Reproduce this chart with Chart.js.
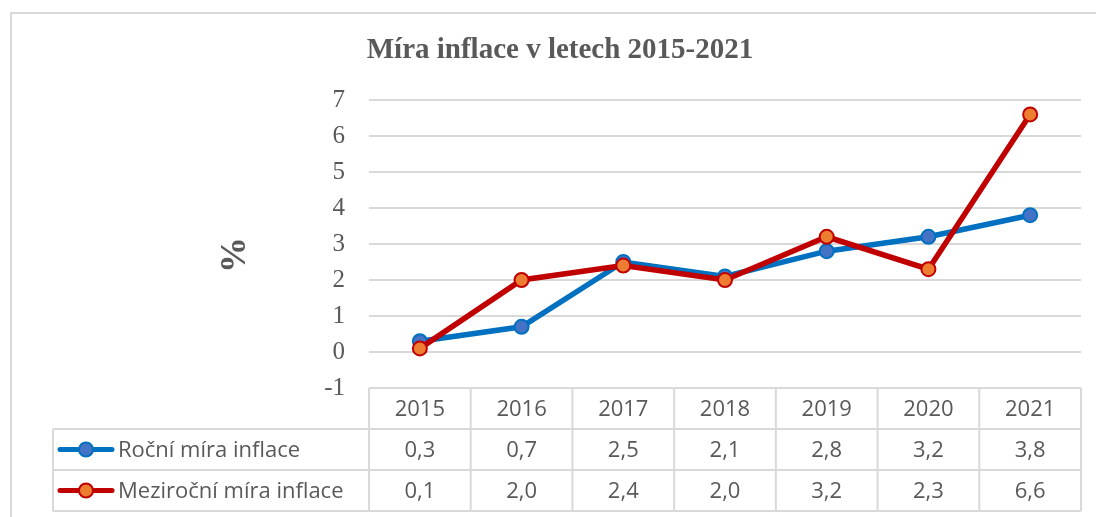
<!DOCTYPE html>
<html>
<head>
<meta charset="utf-8">
<script src="https://cdn.jsdelivr.net/npm/chart.js@4"></script>
<style>
  html, body { margin: 0; padding: 0; background: #fff; }
  #wrap { width: 1096px; height: 517px; }
</style>
</head>
<body>
<div id="wrap"><canvas id="chart" width="1096" height="517"></canvas></div>
<script>
// Data
const years = ['2015', '2016', '2017', '2018', '2019', '2020', '2021'];
const rocni = [0.3, 0.7, 2.5, 2.1, 2.8, 3.2, 3.8];
const mezirocni = [0.1, 2.0, 2.4, 2.0, 3.2, 2.3, 6.6];
const seriesNames = ['Roční míra inflace', 'Meziroční míra inflace'];
const chartTitle = 'Míra inflace v letech 2015-2021';
const axisTitle = '%';

const gray = '#595959';
const gridGray = '#d9d9d9';
const tableFont = '22px "Open Sans", sans-serif';

// Outer frame, title and the "%" axis title
const framePlugin = {
  id: 'frame',
  beforeDraw(chart) {
    const ctx = chart.ctx;
    ctx.save();
    ctx.strokeStyle = gridGray;
    ctx.lineWidth = 2;
    ctx.beginPath();
    ctx.moveTo(11, chart.height);
    ctx.lineTo(11, 13);
    ctx.lineTo(chart.width, 13);
    ctx.stroke();
    ctx.fillStyle = gray;
    ctx.font = 'bold 29px "Liberation Serif", serif';
    ctx.textAlign = 'center';
    ctx.textBaseline = 'middle';
    ctx.fillText(chartTitle, 560, 51);

    ctx.translate(236, 255);
    ctx.rotate(-Math.PI / 2);
    ctx.font = 'bold 36px "Liberation Serif", serif';
    ctx.fillText(axisTitle, 0, 0);
    ctx.restore();
  }
};

// Data table under the plot area (Excel style)
const tablePlugin = {
  id: 'dataTable',
  afterDraw(chart) {
    const { ctx, chartArea, scales: { x } } = chart;
    const colW = (chartArea.right - chartArea.left) / years.length;
    const top = chartArea.bottom;
    const rows = [top, top + 41, top + 82, top + 123];
    const legendLeft = 53;

    ctx.save();
    ctx.strokeStyle = gridGray;
    ctx.lineWidth = 2;
    ctx.beginPath();
    // horizontal lines
    ctx.moveTo(chartArea.left, rows[0]);
    ctx.lineTo(chartArea.right, rows[0]);
    for (let r = 1; r < rows.length; r++) {
      ctx.moveTo(legendLeft, rows[r]);
      ctx.lineTo(chartArea.right, rows[r]);
    }
    // vertical lines
    for (let i = 0; i <= years.length; i++) {
      const xx = chartArea.left + i * colW;
      ctx.moveTo(xx, rows[0]);
      ctx.lineTo(xx, rows[3]);
    }
    ctx.moveTo(legendLeft, rows[1]);
    ctx.lineTo(legendLeft, rows[3]);
    ctx.stroke();

    ctx.fillStyle = gray;
    ctx.font = tableFont;
    ctx.textAlign = 'center';
    ctx.textBaseline = 'middle';
    years.forEach((y, i) => {
      ctx.fillText(y, x.getPixelForValue(i), (rows[0] + rows[1]) / 2 + 1);
    });

    chart.data.datasets.forEach((ds, d) => {
      const cy = (rows[d + 1] + rows[d + 2]) / 2 + 1;
      ds.data.forEach((v, i) => {
        ctx.fillText(v.toFixed(1).replace('.', ','), x.getPixelForValue(i), cy);
      });
      // legend key
      ctx.strokeStyle = ds.borderColor;
      ctx.lineWidth = 5;
      ctx.lineCap = 'round';
      ctx.beginPath();
      ctx.moveTo(60, cy - 1);
      ctx.lineTo(112, cy - 1);
      ctx.stroke();
      ctx.beginPath();
      ctx.arc(86, cy - 1, 7, 0, Math.PI * 2);
      ctx.fillStyle = ds.pointBackgroundColor;
      ctx.fill();
      ctx.lineWidth = 2;
      ctx.strokeStyle = ds.pointBorderColor;
      ctx.stroke();
      ctx.fillStyle = gray;
      ctx.textAlign = 'left';
      ctx.fillText(seriesNames[d], 118, cy);
      ctx.textAlign = 'center';
    });
    ctx.restore();
  }
};

new Chart(document.getElementById('chart'), {
  type: 'line',
  data: {
    labels: years,
    datasets: [
      {
        label: seriesNames[0],
        data: rocni,
        borderColor: '#0070C0',
        borderWidth: 5.5,
        pointBackgroundColor: '#4472C4',
        pointBorderColor: '#0070C0',
        pointBorderWidth: 2,
        pointRadius: 7,
        tension: 0,
        order: 1,
      },
      {
        label: seriesNames[1],
        data: mezirocni,
        borderColor: '#C00000',
        borderWidth: 5.5,
        pointBackgroundColor: '#ED7D31',
        pointBorderColor: '#C00000',
        pointBorderWidth: 2,
        pointRadius: 7,
        tension: 0,
        order: 0,
      },
    ],
  },
  options: {
    responsive: false,
    animation: false,
    layout: { padding: { left: 216, right: 15, top: 100, bottom: 129 } },
    plugins: {
      legend: { display: false },
      tooltip: { enabled: false },
      title: { display: false },
    },
    scales: {
      x: {
        display: false,
        offset: true,
      },
      y: {
        min: -1,
        max: 7,
        afterFit(scale) { scale.width = 153; },
        border: { display: false },
        grid: { color: gridGray, lineWidth: 2, drawTicks: false },
        ticks: {
          stepSize: 1,
          padding: 24,
          color: gray,
          font: { family: '"Liberation Serif", serif', size: 25 },
        },
      },
    },
  },
  plugins: [framePlugin, tablePlugin],
});
</script>
</body>
</html>
